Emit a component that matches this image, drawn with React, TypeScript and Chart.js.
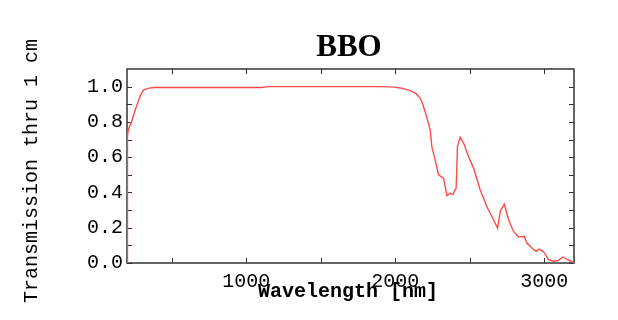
import React, { useEffect, useRef } from 'react';
import { Chart, registerables } from 'chart.js';

Chart.register(...registerables);

const wavelengths = [
  200, 201, 203, 205, 210, 230, 260, 290, 310, 340, 380, 600, 1100, 1150, 1900, 2000,
  2011, 2050, 2100, 2140, 2168, 2185, 2201, 2220, 2235, 2246, 2268, 2291, 2313, 2325,
  2347, 2369, 2387, 2409, 2418, 2436, 2459, 2492, 2526, 2570, 2615, 2660, 2687, 2705,
  2732, 2761, 2794, 2828, 2866, 2884, 2917, 2946, 2966, 2983, 3000, 3029, 3063, 3096,
  3126, 3153, 3180, 3200,
];
const transmission = [
  0, 0.3, 0.6, 0.72, 0.76, 0.8, 0.88, 0.95, 0.98, 0.99, 0.995, 0.995, 0.995, 1.0, 1.0, 0.997,
  0.995, 0.99, 0.977, 0.96, 0.934, 0.9, 0.858, 0.8, 0.755, 0.66, 0.585, 0.5, 0.487, 0.48,
  0.381, 0.396, 0.388, 0.425, 0.66, 0.713, 0.68, 0.604, 0.538, 0.415, 0.32, 0.245, 0.198, 0.292,
  0.334, 0.245, 0.179, 0.147, 0.151, 0.113, 0.085, 0.066, 0.079, 0.07, 0.06, 0.019, 0.01, 0.015,
  0.034, 0.02, 0.01, 0.0,
];

const xTickValues = [500, 1000, 1500, 2000, 2500, 3000];
const xTickLabels = [1000, 2000, 3000];
const yTickValues = [0, 0.1, 0.2, 0.3, 0.4, 0.5, 0.6, 0.7, 0.8, 0.9, 1.0];
const yTickLabels = [0, 0.2, 0.4, 0.6, 0.8, 1.0];

const chartTitle = 'BBO';
const xTitle = 'Wavelength [nm]';
const yTitle = 'Transmission thru 1 cm';

const MONO = '"Liberation Mono", "DejaVu Sans Mono", monospace';

const framePlugin = {
  id: 'frameAndText',
  beforeDatasetsDraw(chart: any) {
    const { ctx, chartArea: a, scales } = chart;
    ctx.save();
    ctx.strokeStyle = '#333333';
    ctx.lineWidth = 1.5;
    ctx.strokeRect(a.left, a.top, a.right - a.left, a.bottom - a.top);
    ctx.lineWidth = 1;
    const len = 5;
    scales.x.ticks.forEach((t: any) => {
      const px = Math.round(scales.x.getPixelForValue(t.value)) + 0.5;
      ctx.beginPath();
      ctx.moveTo(px, a.bottom);
      ctx.lineTo(px, a.bottom - len);
      ctx.moveTo(px, a.top);
      ctx.lineTo(px, a.top + len);
      ctx.stroke();
    });
    scales.y.ticks.forEach((t: any) => {
      const py = Math.round(scales.y.getPixelForValue(t.value)) + 0.5;
      ctx.beginPath();
      ctx.moveTo(a.left, py);
      ctx.lineTo(a.left + len, py);
      ctx.moveTo(a.right, py);
      ctx.lineTo(a.right - len, py);
      ctx.stroke();
    });
    ctx.restore();
  },
  afterDraw(chart: any) {
    const { ctx } = chart;
    ctx.save();
    ctx.fillStyle = '#000000';
    ctx.textAlign = 'center';
    ctx.textBaseline = 'middle';
    ctx.font = 'bold 31px "Liberation Serif", "DejaVu Serif", serif';
    ctx.fillText(chartTitle, 349, 48);
    ctx.font = `bold 20px ${MONO}`;
    ctx.fillText(xTitle, 348, 292);
    ctx.font = `20px ${MONO}`;
    ctx.translate(32, 171);
    ctx.rotate(-Math.PI / 2);
    ctx.fillText(yTitle, 0, 0);
    ctx.restore();
  },
};

export default function App() {
  const ref = useRef<HTMLCanvasElement | null>(null);

  useEffect(() => {
    if (!ref.current) return;
    const chart = new Chart(ref.current, {
      type: 'line',
      data: {
        datasets: [
          {
            data: wavelengths.map((w, i) => ({ x: w, y: transmission[i] })),
            borderColor: '#ff4a4a',
            borderWidth: 1.4,
            pointRadius: 0,
            tension: 0,
            fill: false,
          },
        ],
      },
      options: {
        animation: false,
        responsive: false,
        layout: { padding: { left: 0, right: 44, top: 69, bottom: 0 } },
        plugins: { legend: { display: false }, tooltip: { enabled: false }, title: { display: false } },
        scales: {
          x: {
            type: 'linear',
            min: 200,
            max: 3200,
            border: { display: false },
            grid: { display: false, drawTicks: false },
            afterBuildTicks: (s: any) => {
              s.ticks = xTickValues.map((v) => ({ value: v }));
            },
            afterFit: (s: any) => {
              s.height = 57;
            },
            ticks: {
              autoSkip: false,
              maxRotation: 0,
              padding: 7,
              color: '#000000',
              font: { family: MONO, size: 20 },
              callback: (v: any) => (xTickLabels.includes(Number(v)) ? String(v) : ''),
            },
          },
          y: {
            type: 'linear',
            min: 0,
            max: 1.1,
            border: { display: false },
            grid: { display: false, drawTicks: false },
            afterBuildTicks: (s: any) => {
              s.ticks = yTickValues.map((v) => ({ value: v }));
            },
            afterFit: (s: any) => {
              s.width = 127;
            },
            ticks: {
              autoSkip: false,
              padding: 4,
              color: '#000000',
              font: { family: MONO, size: 20 },
              callback: (v: any) =>
                yTickLabels.some((l) => Math.abs(l - Number(v)) < 1e-6) ? Number(v).toFixed(1) : '',
            },
          },
        },
      },
      plugins: [framePlugin],
    } as any);
    return () => chart.destroy();
  }, []);

  return (
    <div style={{ position: 'absolute', left: 0, top: 0, width: 618, height: 320, background: '#ffffff' }}>
      <canvas ref={ref} width={618} height={320} />
    </div>
  );
}
